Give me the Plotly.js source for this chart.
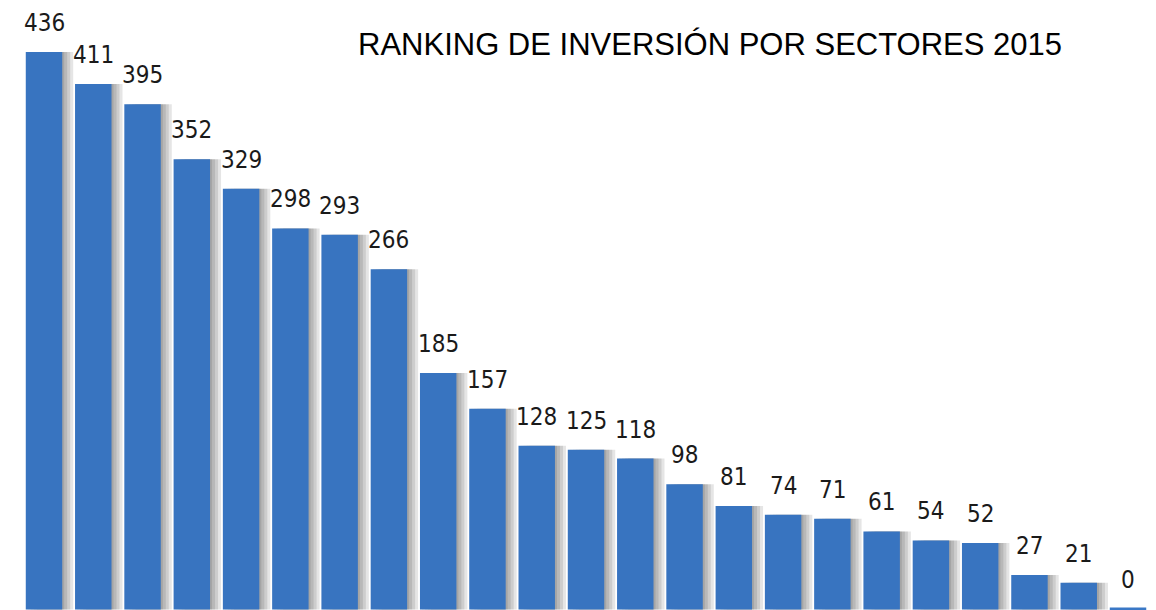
<!DOCTYPE html>
<html>
<head>
<meta charset="utf-8">
<script src="https://cdn.plot.ly/plotly-3.0.1.min.js"></script>
<style>html,body{margin:0;padding:0;background:#fff;}#chart{width:1156px;height:610px;}</style>
</head>
<body>
<div id="chart"></div>
<script>
// Data
const categories = ["S1","S2","S3","S4","S5","S6","S7","S8","S9","S10","S11","S12","S13","S14","S15","S16","S17","S18","S19","S20","S21","S22","S23"];
const values = [436, 411, 395, 352, 329, 298, 293, 266, 185, 157, 128, 125, 118, 98, 81, 74, 71, 61, 54, 52, 27, 21, 0];
const valueLabels = values.map(String);
const chartTitle = "RANKING DE INVERSIÓN POR SECTORES 2015";

const idx = categories.map((_, i) => i);
const px = 1 / 49.27;      // one pixel in category units
const barW = 0.74;

const shadowLayers = [2, 5, 8, 11].map(k => ({
  type: 'bar', x: idx, y: values, width: barW, offset: -barW / 2 + k * px,
  marker: { color: 'rgba(0,0,0,0.1)', line: { width: 0 } },
  hoverinfo: 'skip', showlegend: false
}));

const mainBars = {
  type: 'bar', x: idx, y: values, width: barW, offset: -barW / 2,
  marker: {
    color: '#3874c0',
    line: { color: '#3a78c6', width: values.map(v => v === 0 ? 4 : 0) }
  },
  showlegend: false
};

const annotations = values.map((v, i) => ({
  x: i, y: v, xref: 'x', yref: 'y', text: valueLabels[i],
  showarrow: false, yanchor: 'bottom', xanchor: 'center', yshift: 13,
  font: { family: 'DejaVu Sans Condensed, DejaVu Sans, sans-serif', size: 24, color: '#1a1a1a' }
}));

annotations.push({
  xref: 'paper', yref: 'paper', x: 710 / 1156, y: 1 - 45 / 610,
  xanchor: 'center', yanchor: 'middle', showarrow: false, text: chartTitle,
  font: { family: 'Liberation Sans, Arial, sans-serif', size: 31, color: '#000' }
});

const layout = {
  width: 1156, height: 610,
  margin: { l: 0, r: 0, t: 0, b: 0, pad: 0 },
  paper_bgcolor: '#fff', plot_bgcolor: '#fff',
  barmode: 'overlay',
  showlegend: false,
  xaxis: { range: [-0.893, 22.568], visible: false, fixedrange: true },
  yaxis: { range: [-0.4, 476.6], visible: false, fixedrange: true },
  annotations: annotations
};

Plotly.newPlot('chart', [...shadowLayers, mainBars], layout, { displayModeBar: false, staticPlot: true });
</script>
</body>
</html>
